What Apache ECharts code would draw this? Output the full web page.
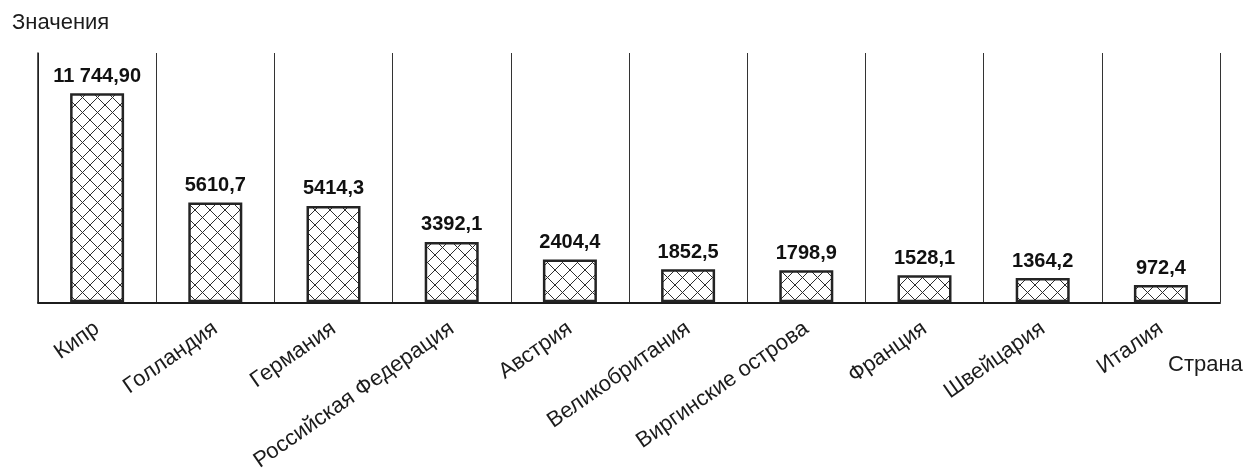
<!DOCTYPE html>
<html>
<head>
<meta charset="utf-8">
<script src="https://cdn.jsdelivr.net/npm/echarts@6/dist/echarts.min.js"></script>
<style>
  html, body { margin: 0; padding: 0; background: #ffffff; }
  #chart { width: 1245px; height: 474px; }
</style>
</head>
<body>
<div id="chart"></div>
<script>
// Countries and their values
const countries = [
  'Кипр', 'Голландия', 'Германия', 'Российская Федерация', 'Австрия',
  'Великобритания', 'Виргинские острова', 'Франция', 'Швейцария', 'Италия'
];
const values = [11744.90, 5610.7, 5414.3, 3392.1, 2404.4, 1852.5, 1798.9, 1528.1, 1364.2, 972.4];
const yTitle = 'Значения';
const xTitle = 'Страна';

const FONT = '"Liberation Sans", Arial, sans-serif';
const INK = '#1c1c1c';

// Cross-hatch fill for the bars
function hatchPattern(size) {
  const c = document.createElement('canvas');
  c.width = size; c.height = size;
  const g = c.getContext('2d');
  g.fillStyle = '#ffffff';
  g.fillRect(0, 0, size, size);
  g.strokeStyle = '#2e2e2e';
  g.lineWidth = 1;
  g.beginPath();
  for (const dx of [-size, 0, size]) {
    g.moveTo(dx, 0); g.lineTo(dx + size, size);
    g.moveTo(dx + size, 0); g.lineTo(dx, size);
  }
  g.stroke();
  return c;
}

// "11 744,90" for large numbers, "5610,7" otherwise
function formatValue(v) {
  if (v >= 10000) {
    const parts = v.toFixed(2).split('.');
    return parts[0].replace(/\B(?=(\d{3})+(?!\d))/g, ' ') + ',' + parts[1];
  }
  return v.toFixed(1).replace('.', ',');
}

const chart = echarts.init(document.getElementById('chart'), null, { renderer: 'canvas' });

chart.setOption({
  backgroundColor: '#ffffff',
  animation: false,
  grid: { left: 38, right: 25, top: 53, bottom: 170, containLabel: false },
  xAxis: {
    type: 'category',
    data: countries,
    boundaryGap: true,
    axisLine: { show: true, lineStyle: { color: INK, width: 2 } },
    axisTick: { show: false },
    splitLine: { show: true, lineStyle: { color: '#333333', width: 1 } },
    axisLabel: {
      rotate: 35,
      margin: 24,
      interval: 0,
      fontFamily: FONT,
      fontSize: 22,
      color: INK
    }
  },
  yAxis: {
    type: 'value',
    min: 0,
    max: 14000,
    axisLine: { show: true, lineStyle: { color: INK, width: 1.5 } },
    axisTick: { show: false },
    axisLabel: { show: false },
    splitLine: { show: false }
  },
  series: [{
    type: 'bar',
    data: values,
    barWidth: 54,
    itemStyle: {
      color: { image: hatchPattern(15), repeat: 'repeat' },
      borderColor: '#242424',
      borderWidth: 2.5
    },
    label: {
      show: true,
      position: 'top',
      distance: 7,
      fontFamily: FONT,
      fontSize: 20,
      fontWeight: 'bold',
      color: '#111111',
      formatter: p => formatValue(p.value)
    }
  }],
  graphic: [
    {
      type: 'text', left: 12, top: 12,
      style: { text: yTitle, font: '22px ' + FONT, fill: INK }
    },
    {
      type: 'text', left: 1168, top: 354,
      style: { text: xTitle, font: '22px ' + FONT, fill: INK }
    }
  ]
});
</script>
</body>
</html>
